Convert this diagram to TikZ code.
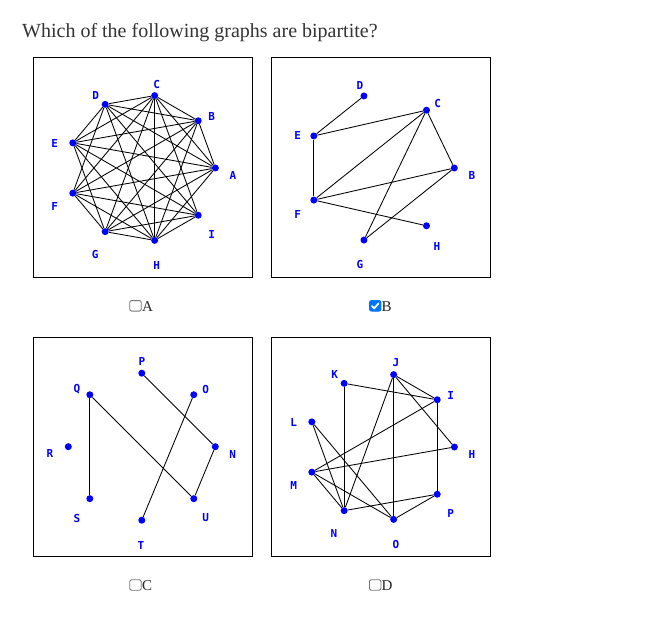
\documentclass[tikz,border=0pt]{standalone}
\usepackage{fontspec}
\setmainfont{Liberation Serif}
\newfontfamily\lblfont{DejaVu Sans Mono}
\usetikzlibrary{calc}
\definecolor{titlegray}{HTML}{333333}
\definecolor{cbblue}{HTML}{0075FF}
\definecolor{cbgray}{HTML}{767676}
\begin{document}
\begin{tikzpicture}[x=1pt,y=-1pt,
  dot/.style={circle,fill=blue,inner sep=0pt,minimum size=7pt},
  lbl/.style={font=\lblfont\bfseries\fontsize{11}{11}\selectfont,text=blue,inner sep=0pt},
  panel/.style={draw=black,line width=1pt},
  edge/.style={draw=black,line width=0.85pt},
  cbox/.style={draw=cbgray,line width=0.9pt,rounded corners=2pt,minimum width=11.5pt,minimum height=10.5pt,inner sep=0pt},
  cboxon/.style={cbox,draw=cbblue,fill=cbblue},
  cblabel/.style={font=\fontsize{15}{15}\selectfont,text=black!85,inner sep=0pt,anchor=base west}]
\useasboundingbox (0,0) rectangle (669,639);
\fill[white] (0,0) rectangle (669,639);
\node[font=\fontsize{20}{20}\selectfont,text=titlegray,anchor=base west,inner sep=0pt] (title) at (22,37.5) {Which of the following graphs are bipartite?};
% panels
\node[panel,minimum width=219pt,minimum height=219pt,inner sep=0pt] (pA) at (142.5,167.5) {};
\node[panel,minimum width=219pt,minimum height=219pt,inner sep=0pt] (pB) at (380.5,167.5) {};
\node[panel,minimum width=219pt,minimum height=219pt,inner sep=0pt] (pC) at (142.5,447) {};
\node[panel,minimum width=219pt,minimum height=219pt,inner sep=0pt] (pD) at (380.5,447) {};
% graph A
\foreach \n [count=\i from 0] in {A,B,C,D,E,F,G,H,I}
  \node[dot] (a\n) at ($(141.9,168)+(-40*\i:73.5)$) {};
\foreach \u/\v in {A/B,A/C,A/D,A/E,A/F,A/G,A/H,B/C,B/D,B/E,B/F,B/G,B/H,C/D,C/E,C/F,C/G,C/H,C/I,D/E,D/F,D/H,D/I,E/G,E/H,E/I,F/G,F/H,F/I,G/H,G/I,H/I}
  \draw[edge] (a\u) -- (a\v);
\node[lbl] (laA) at (233,175) {A};
\node[lbl] (laB) at (211.7,116) {B};
\node[lbl] (laC) at (156.7,84.3) {C};
\node[lbl] (laD) at (95.7,95.3) {D};
\node[lbl] (laE) at (54.7,143.3) {E};
\node[lbl] (laF) at (54.7,206.7) {F};
\node[lbl] (laG) at (95.3,254.3) {G};
\node[lbl] (laH) at (156.7,265) {H};
\node[lbl] (laI) at (211.7,234.3) {I};
% graph B
\foreach \n [count=\i from 0] in {B,C,D,E,F,G,H}
  \node[dot] (b\n) at ($(380.4,168)+(-51.4286*\i:73.9)$) {};
\foreach \u/\v in {D/E,E/C,E/F,F/C,F/B,F/H,C/B,C/G,B/G}
  \draw[edge] (b\u) -- (b\v);
\node[lbl] (lbD) at (360,85) {D};
\node[lbl] (lbC) at (437.7,103) {C};
\node[lbl] (lbE) at (297.7,135.3) {E};
\node[lbl] (lbB) at (472,175) {B};
\node[lbl] (lbF) at (297.7,214) {F};
\node[lbl] (lbH) at (437,246) {H};
\node[lbl] (lbG) at (360,264.3) {G};
% graph C
\foreach \n [count=\i from 0] in {N,O,P,Q,R,S,T,U}
  \node[dot] (c\n) at ($(141.8,446.7)+(-45*\i:73.5)$) {};
\foreach \u/\v in {P/N,Q/S,Q/U,O/T,N/U}
  \draw[edge] (c\u) -- (c\v);
\node[lbl] (lcP) at (142,361.7) {P};
\node[lbl] (lcQ) at (77,389) {Q};
\node[lbl] (lcO) at (205.7,389) {O};
\node[lbl] (lcR) at (50,453.3) {R};
\node[lbl] (lcN) at (232.7,454) {N};
\node[lbl] (lcS) at (77,518) {S};
\node[lbl] (lcU) at (205.7,518) {U};
\node[lbl] (lcT) at (141,545) {T};
% graph D
\foreach \n [count=\i from 0] in {H,I,J,K,L,M,N,O,P}
  \node[dot] (d\n) at ($(380.9,447)+(-40*\i:73.5)$) {};
\foreach \u/\v in {K/I,K/N,J/I,J/H,J/O,J/N,I/M,I/P,H/M,L/N,L/O,M/N,M/O,N/P,O/P}
  \draw[edge] (d\u) -- (d\v);
\node[lbl] (ldJ) at (396,362.3) {J};
\node[lbl] (ldK) at (334.7,374.3) {K};
\node[lbl] (ldI) at (450.7,395) {I};
\node[lbl] (ldL) at (293.7,422.3) {L};
\node[lbl] (ldH) at (472,454) {H};
\node[lbl] (ldM) at (293.7,485.3) {M};
\node[lbl] (ldP) at (450.7,513.3) {P};
\node[lbl] (ldN) at (334,533.3) {N};
\node[lbl] (ldO) at (396,544.3) {O};
% checkboxes
\node[cbox] (cbA) at (135.5,305.8) {};
\node[cblabel] (tA) at (142,311) {A};
\node[cboxon] (cbB) at (375.2,305.8) {};
\draw[white,line width=1.8pt,line cap=round,line join=round] ($(cbB.center)+(-3.3,0.3)$) -- ($(cbB.center)+(-1,2.6)$) -- ($(cbB.center)+(3.3,-2.4)$);
\node[cblabel] (tB) at (381.5,311) {B};
\node[cbox] (cbC) at (135.5,585) {};
\node[cblabel] (tC) at (142,590.5) {C};
\node[cbox] (cbD) at (375.2,585) {};
\node[cblabel] (tD) at (381.5,590.5) {D};
\end{tikzpicture}
\end{document}
